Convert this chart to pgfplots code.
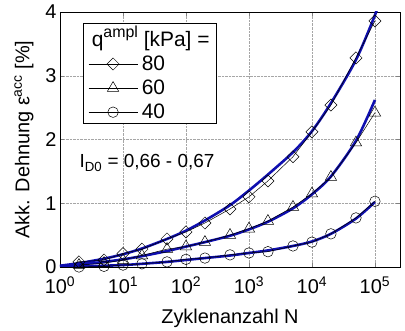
\documentclass[border=0pt]{standalone}
\usepackage{pgfplots}
\pgfplotsset{compat=1.18}
\usepackage{fontspec}
\setmainfont{Liberation Sans}
\definecolor{fitblue}{RGB}{15,15,175}
\newcommand{\mysup}[1]{\raisebox{0.42em}{\fontsize{16}{16}\selectfont #1}}
\begin{document}
\begin{tikzpicture}
\begin{axis}[
  scale only axis, width=340bp, height=255bp,
  xmode=log, xmin=1, xmax=2.5e5, ymin=0, ymax=4,
  xtick={1,10,100,1000,10000,100000},
  xticklabels={10\textsuperscript{0},10\textsuperscript{1},10\textsuperscript{2},10\textsuperscript{3},10\textsuperscript{4},10\textsuperscript{5}},
  xminorticks=false,
  ytick={0,1,2,3,4},
  /pgf/number format/assume math mode=true,
  grid=major, major grid style={densely dotted, gray!70},
  tick align=inside, major tick length=4bp,
  tick label style={font=\fontsize{20}{23}\selectfont},
  xticklabel style={yshift=-6bp},
  label style={font=\fontsize{20}{24}\selectfont},
  xlabel={Zyklenanzahl N},
  xlabel style={yshift=-8bp},
  ylabel={Akk. Dehnung ε\textsuperscript{acc} [\%]},
  ylabel style={yshift=5bp},
  legend style={at={(axis description cs:0.068,0.957)}, anchor=north west,
    font=\fontsize{21}{24}\selectfont, draw=black, inner xsep=5bp, inner ysep=1bp,
    row sep=4bp, column sep=2bp, cells={anchor=west}},
  legend cell align=left,
  legend image code/.code={\draw[mark repeat=2,mark phase=2,#1] plot coordinates {(0bp,0bp)(24.5bp,0bp)(49bp,0bp)};},
  clip=true,
]
% fitted curves
\addplot[fitblue, line width=2.6pt, smooth, forget plot] coordinates {
(1,0.02)(2,0.06)(5,0.13)(10,0.20)(20,0.29)(50,0.44)(100,0.57)(200,0.73)(500,0.97)(1000,1.20)(2000,1.45)(5000,1.80)(10000,2.13)(20000,2.57)(50000,3.25)(100000,3.95)(110000,4.1)};
\addplot[fitblue, line width=2.6pt, smooth, forget plot] coordinates {
(1,0.01)(2,0.04)(5,0.08)(10,0.12)(20,0.17)(50,0.25)(100,0.32)(200,0.39)(500,0.49)(1000,0.59)(2000,0.71)(5000,0.92)(10000,1.14)(20000,1.42)(50000,1.98)(100000,2.62)};
\addplot[fitblue, line width=2.6pt, smooth, forget plot] coordinates {
(1,0.00)(2,0.01)(5,0.02)(10,0.03)(20,0.05)(50,0.08)(100,0.11)(200,0.14)(500,0.18)(1000,0.22)(2000,0.26)(5000,0.33)(10000,0.40)(20000,0.52)(50000,0.76)(100000,1.02)};
\addlegendimage{empty legend}
\addlegendentry{\hspace*{-50bp}q\mysup{ampl} [kPa] =}
% measured data
\addplot[black, line width=0.5pt, mark=square, mark size=4.3pt, mark options={rotate=45, fill=white, solid}] coordinates {
(2,0.08)(5,0.11)(10,0.21)(20,0.28)(50,0.44)(100,0.55)(200,0.69)(500,0.91)(1000,1.10)(2000,1.35)(5000,1.73)(10000,2.12)(20000,2.54)(50000,3.28)(100000,3.86)};
\addlegendentry{80}
\addplot[black, line width=0.5pt, mark=triangle, mark size=6.6pt, mark options={fill=white, solid}] coordinates {
(2,0.03)(5,0.06)(10,0.11)(20,0.18)(50,0.28)(100,0.32)(200,0.39)(500,0.50)(1000,0.60)(2000,0.72)(5000,0.94)(10000,1.15)(20000,1.41)(50000,1.95)(100000,2.42)};
\addlegendentry{60}
\addplot[black, line width=0.5pt, mark=o, mark size=5.3pt, mark options={fill=white, solid}] coordinates {
(2,0.00)(5,0.01)(10,0.03)(20,0.05)(50,0.08)(100,0.12)(200,0.14)(500,0.19)(1000,0.22)(2000,0.24)(5000,0.33)(10000,0.39)(20000,0.52)(50000,0.77)(100000,1.03)};
\addlegendentry{40}
\node[anchor=west, font=\fontsize{19}{22}\selectfont] at (axis cs:1.8,1.63) {I\textsubscript{D0} = 0,66 - 0,67};
\end{axis}
\pgfresetboundingbox
\path (current axis.south west) ++(-60bp,-64bp) coordinate (bbA);
\path (current axis.north east) ++(5bp,12bp) coordinate (bbB);
\path[use as bounding box] (bbA) rectangle (bbB);
\end{tikzpicture}
\end{document}
